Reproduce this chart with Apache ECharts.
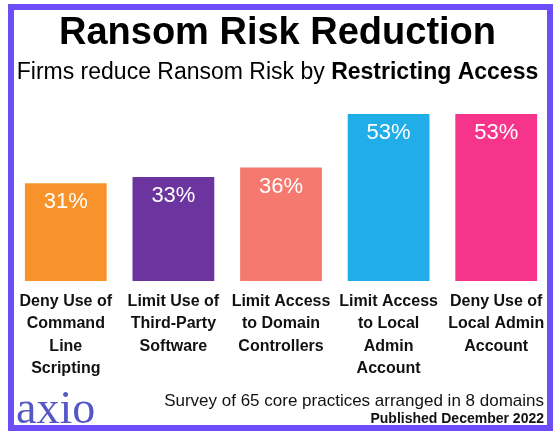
<!DOCTYPE html>
<html>
<head>
<meta charset="utf-8">
<script src="https://cdn.jsdelivr.net/npm/echarts@6/dist/echarts.min.js"></script>
<style>
html,body{margin:0;padding:0;background:#fff;}
#chart{width:555px;height:433px;}
</style>
</head>
<body>
<div id="chart"></div>
<script>
const categories = [
  "Deny Use of\nCommand\nLine\nScripting",
  "Limit Use of\nThird-Party\nSoftware",
  "Limit Access\nto Domain\nControllers",
  "Limit Access\nto Local\nAdmin\nAccount",
  "Deny Use of\nLocal Admin\nAccount"
];
const values = [31, 33, 36, 53, 53];
const barColors = ["#F8922A", "#6B349E", "#F6796F", "#21ADE8", "#F7348B"];

const chart = echarts.init(document.getElementById('chart'), null, {renderer: 'canvas'});
const font = "'Liberation Sans', Arial, sans-serif";
chart.setOption({
  backgroundColor: '#ffffff',
  animation: false,
  title: [
    {
      text: 'Ransom Risk Reduction',
      left: 'center', top: 15, padding: 0,
      textStyle: {fontSize: 38, fontWeight: 'bold', color: '#000', fontFamily: font}
    },
    {
      text: '{n|Firms reduce Ransom Risk by }{b|Restricting Access}',
      left: 'center', top: 61, padding: 0,
      textStyle: {
        fontFamily: font, fontWeight: 'normal',
        rich: {
          n: {fontSize: 23, color: '#000', fontWeight: 'normal', fontFamily: font},
          b: {fontSize: 23, color: '#000', fontWeight: 'bold', fontFamily: font}
        }
      }
    },
    {
      text: 'Survey of 65 core practices arranged in 8 domains',
      right: 11, top: 393, padding: 0,
      textStyle: {fontSize: 17, fontWeight: 'normal', color: '#111', fontFamily: font}
    },
    {
      text: 'Published December 2022',
      right: 11, top: 412, padding: 0,
      textStyle: {fontSize: 14, fontWeight: 'bold', color: '#111', fontFamily: font}
    },
    {
      text: 'axio',
      left: 16, top: 388, padding: 0,
      textStyle: {fontSize: 46, fontWeight: 'normal', color: '#5457C4', fontFamily: "'Liberation Serif', 'DejaVu Serif', serif"}
    }
  ],
  grid: {left: 12, right: 5, top: 114, height: 167, containLabel: false},
  xAxis: {
    type: 'category',
    data: categories,
    axisLine: {show: false},
    axisTick: {show: false},
    axisLabel: {
      interval: 0, margin: 9,
      fontSize: 16, fontWeight: 'bold', color: '#111', lineHeight: 22.5,
      fontFamily: font
    }
  },
  yAxis: {type: 'value', min: 0, max: 53, show: false, splitLine: {show: false}},
  series: [{
    type: 'bar',
    data: values.map((v, i) => ({value: v, itemStyle: {color: barColors[i]}})),
    barCategoryGap: '24%',
    label: {
      show: true, position: 'insideTop', distance: 8,
      formatter: '{c}%', fontSize: 22, color: '#ffffff', fontFamily: font
    }
  }],
  graphic: [{
    type: 'rect',
    shape: {x: 11, y: 7, width: 539, height: 421},
    style: {fill: 'none', stroke: '#6C4DF8', lineWidth: 6},
    silent: true, z: 100
  }]
});
</script>
</body>
</html>
